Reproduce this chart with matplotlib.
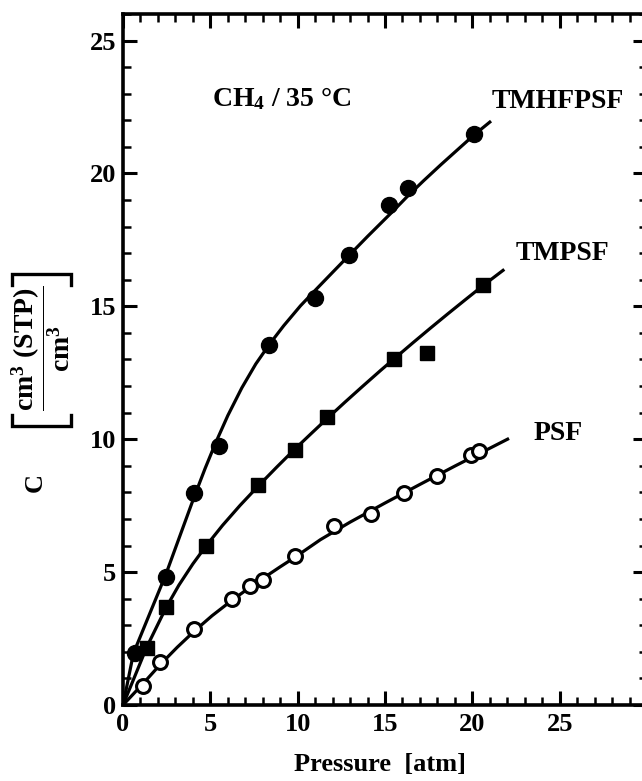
import matplotlib
matplotlib.use("Agg")
import matplotlib.pyplot as plt
from matplotlib.lines import Line2D
from matplotlib.ticker import MultipleLocator

plt.rcParams['font.family'] = ['Liberation Serif', 'DejaVu Serif']
plt.rcParams['font.weight'] = 'bold'
plt.rcParams['mathtext.fontset'] = 'custom'
plt.rcParams['mathtext.rm'] = 'Liberation Serif:bold'
plt.rcParams['mathtext.bf'] = 'Liberation Serif:bold'
plt.rcParams['mathtext.it'] = 'Liberation Serif:bold'

# measured points, CH4 at 35 C
p_tmhfpsf = [0.69, 2.45, 4.08, 5.51, 8.38, 11.0, 12.93, 15.23, 16.3, 20.1]
c_tmhfpsf = [1.95, 4.82, 7.98, 9.75, 13.53, 15.33, 16.94, 18.8, 19.46, 21.5]

p_tmpsf = [1.36, 2.47, 4.76, 7.73, 9.84, 11.69, 15.52, 17.39, 20.59]
c_tmpsf = [2.13, 3.67, 5.98, 8.27, 9.61, 10.85, 13.03, 13.25, 15.79]

p_psf = [1.13, 2.09, 4.08, 6.24, 7.29, 8.02, 9.82, 12.1, 14.2, 16.1, 18.0, 19.9, 20.4]
c_psf = [0.71, 1.6, 2.86, 3.97, 4.47, 4.7, 5.6, 6.73, 7.18, 7.97, 8.6, 9.4, 9.55]

# fitted curves
fit_x_tmhfpsf = [0, 0.6, 1.5, 2.45, 3.3, 4.08, 4.7, 5.3, 6.0, 6.8, 7.6, 8.38, 9.2, 10.16,
                 11.0, 12.0, 12.93, 14.0, 14.75, 15.5, 16.3, 17.2, 18.2, 19.2, 20.1, 21.07]
fit_y_tmhfpsf = [0, 1.95, 3.39, 4.91, 6.44, 7.84, 8.9, 9.86, 10.89, 11.93, 12.83, 13.57, 14.27,
                 15.02, 15.6, 16.28, 16.91, 17.63, 18.12, 18.61, 19.15, 19.72, 20.33, 20.92,
                 21.45, 21.97]

fit_x_tmpsf = [0, 0.7, 1.36, 2.0, 2.47, 3.2, 4.0, 4.76, 5.7, 6.7, 7.73, 8.8, 9.84, 10.8,
               11.69, 12.7, 13.7, 14.75, 15.6, 16.6, 17.6, 18.6, 19.6, 20.59, 21.83]
fit_y_tmpsf = [0, 1.12, 2.18, 3.04, 3.67, 4.51, 5.31, 5.99, 6.76, 7.51, 8.23, 8.95, 9.63, 10.23,
               10.78, 11.39, 11.98, 12.59, 13.07, 13.63, 14.18, 14.72, 15.25, 15.77, 16.39]

fit_x_psf = [0, 1.1, 2.1, 3.1, 4.1, 5.1, 6.2, 7.1, 8.0, 9.0, 9.8, 11.3, 13, 15, 17, 19, 20.4, 22.1]
fit_y_psf = [0, 0.77, 1.5, 2.17, 2.79, 3.36, 3.92, 4.35, 4.76, 5.2, 5.54, 6.22, 6.88, 7.6,
             8.3, 8.99, 9.46, 10.03]

labels = ['TMHFPSF', 'TMPSF', 'PSF']

fig = plt.figure(figsize=(6.42, 7.81), dpi=100)
ax = fig.add_axes([0.1916, 0.0973, 0.8162, 0.8848])

lw = 2.3
ax.plot(fit_x_tmhfpsf, fit_y_tmhfpsf, color='k', lw=lw, solid_capstyle='butt')
ax.plot(fit_x_tmpsf, fit_y_tmpsf, color='k', lw=lw, solid_capstyle='butt')
ax.plot(fit_x_psf, fit_y_psf, color='k', lw=lw, solid_capstyle='butt')

ax.plot(p_tmhfpsf, c_tmhfpsf, 'o', color='k', ms=11.5, ls='none')
ax.plot(p_tmpsf, c_tmpsf, 's', color='k', ms=10, ls='none')
ax.plot(p_psf, c_psf, 'o', mfc='white', mec='k', mew=2.2, ms=10, ls='none')

fs = 20
ax.text(21.1, 22.7, labels[0], fontsize=fs, fontweight='bold', va='center', ha='left')
ax.text(22.5, 17.0, labels[1], fontsize=fs, fontweight='bold', va='center', ha='left')
ax.text(23.5, 10.2, labels[2], fontsize=fs, fontweight='bold', va='center', ha='left')
ax.text(5.1, 22.8, r'CH$_4$ / 35 °C', fontsize=fs, fontweight='bold', va='center', ha='left')

ax.set_xlim(0, 30)
ax.set_ylim(0, 26)
ax.set_xticks(range(0, 30, 5))
ax.set_yticks(range(0, 30, 5))
ax.xaxis.set_minor_locator(MultipleLocator(1))
ax.yaxis.set_minor_locator(MultipleLocator(1))
ax.tick_params(which='both', direction='in', top=True, right=True, labelsize=19)
ax.tick_params(axis='y', pad=5)
ax.tick_params(axis='x', pad=6)
ax.tick_params(which='major', length=10, width=2.2)
ax.tick_params(which='minor', length=5.5, width=1.8)
for lab in ax.get_xticklabels() + ax.get_yticklabels():
    lab.set_fontweight('bold')
for s in ax.spines.values():
    s.set_linewidth(2.6)

fig.text(380 / 642, 1 - 765 / 781, 'Pressure  [atm]', fontsize=19, fontweight='bold',
         ha='center', va='center')
fig.text(35 / 642, 1 - 483 / 781, 'C', fontsize=19, fontweight='bold',
         ha='center', va='center', rotation=90)
fig.text(41 / 642, 1 - 348 / 781,
         r'$\dfrac{\mathrm{cm^3\ (STP)}}{\mathrm{cm^3}}$',
         fontsize=20, ha='center', va='center', rotation=90)

# square bracket around the unit, drawn in pixel space
W, H = 642, 781
def px(xs, ys):
    return [x / W for x in xs], [1 - y / H for y in ys]

for bx, by in [px([12, 12, 71, 71], [285, 274, 274, 285]),
               px([12, 12, 71, 71], [415, 426, 426, 415])]:
    fig.add_artist(Line2D(bx, by, color='k', lw=2.4, solid_joinstyle='miter',
                          transform=fig.transFigure))

fig.savefig('out.png', dpi=100)
